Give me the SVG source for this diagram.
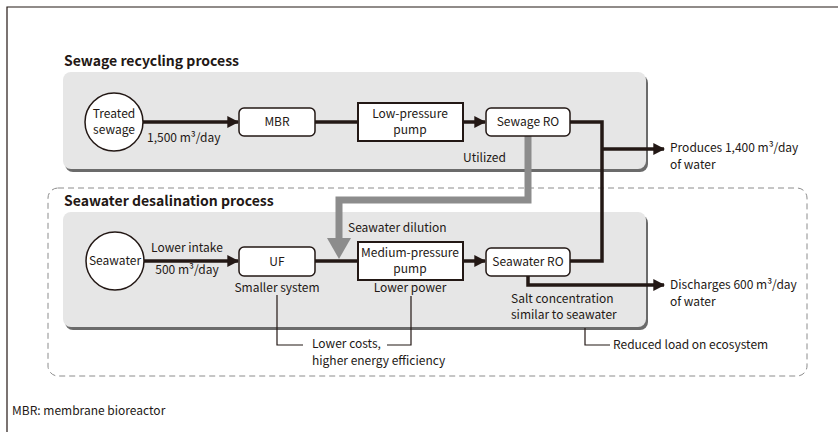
<svg xmlns="http://www.w3.org/2000/svg" width="838" height="432" viewBox="0 0 838 432">
<defs>
<style>
text{font-family:"Noto Sans CJK JP","Noto Sans",sans-serif;font-size:12px;fill:#231815}
.title{font-size:14px;font-weight:bold}
.mid{text-anchor:middle}
.panel{fill:#e6e6e6}
.shadow{fill:#6b6b6b}
.box{fill:#fff;stroke:#231815;stroke-width:1.5}
.pump{fill:#fff;stroke:#231815;stroke-width:2}
.flow{fill:none;stroke:#231815;stroke-width:3.5}
.thin{fill:none;stroke:#231815;stroke-width:1.2}
.gray{fill:none;stroke:#8c8c8c;stroke-width:7}
</style>
<marker id="ah" viewBox="0 0 10 10" refX="9" refY="5" markerWidth="3.4" markerHeight="3.4" orient="auto" markerUnits="strokeWidth">
<path d="M0,0 L10,5 L0,10 Z" fill="#231815"/>
</marker>
</defs>
<rect width="838" height="432" fill="#fff"/>
<path d="M7,432 V7 H838" fill="none" stroke="#231815" stroke-width="1.2"/>

<g id="seawater-frame">
<rect x="48" y="188" width="759" height="188" rx="10" fill="none" stroke="#8c8c8c" stroke-width="1" stroke-dasharray="6,4"/>
</g>

<g id="sewage-panel">
<rect class="shadow" x="65" y="75" width="583" height="97" rx="8"/>
<rect class="panel" x="63" y="72" width="583" height="97" rx="8"/>
<text class="title" x="64" y="66">Sewage recycling process</text>
</g>
<g id="seawater-panel">
<rect class="shadow" x="65" y="215" width="583" height="115" rx="8"/>
<rect class="panel" x="63" y="212" width="583" height="115" rx="8"/>
<text class="title" x="64" y="206">Seawater desalination process</text>
</g>

<g id="connectors">
<line class="flow" x1="143" y1="122" x2="238" y2="122" marker-end="url(#ah)"/>
<line class="flow" x1="315" y1="122" x2="358" y2="122"/>
<line class="flow" x1="463" y1="122" x2="485" y2="122" marker-end="url(#ah)"/>
<path class="flow" d="M570,122 H602 V261 H570"/>
<line class="flow" x1="602" y1="149" x2="664" y2="149" marker-end="url(#ah)"/>
<line class="flow" x1="144" y1="261" x2="238" y2="261" marker-end="url(#ah)"/>
<line class="flow" x1="315" y1="261" x2="358" y2="261"/>
<line class="flow" x1="463" y1="261" x2="485" y2="261" marker-end="url(#ah)"/>
<path class="flow" d="M528,276 V285 H664" marker-end="url(#ah)"/>
<path class="gray" d="M528,136 V200 H339 V238"/>
<polygon points="327,238 351,238 339,259" fill="#8c8c8c"/>
<path class="thin" d="M277,295 V345 H303"/>
<path class="thin" d="M387,345 H411 V296"/>
<path class="thin" d="M585,328 V345 H610"/>
</g>

<g id="treated-sewage">
<circle cx="114" cy="122" r="29" fill="#fff" stroke="#231815" stroke-width="1.5"/>
<text class="mid" x="114" y="118">Treated</text>
<text class="mid" x="114" y="134">sewage</text>
</g>
<g id="mbr">
<rect class="box" x="239" y="108" width="76" height="28" rx="5"/>
<text class="mid" x="277" y="126">MBR</text>
</g>
<g id="low-pressure-pump">
<rect class="pump" x="358" y="103" width="105" height="38"/>
<text class="mid" x="410" y="118">Low-pressure</text>
<text class="mid" x="410" y="134">pump</text>
</g>
<g id="sewage-ro">
<rect class="box" x="486" y="108" width="84" height="28" rx="5"/>
<text class="mid" x="528" y="126">Sewage RO</text>
</g>
<g id="seawater">
<circle cx="115" cy="261" r="29" fill="#fff" stroke="#231815" stroke-width="1.5"/>
<text class="mid" x="115" y="265">Seawater</text>
</g>
<g id="uf">
<rect class="box" x="239" y="247" width="76" height="29" rx="5"/>
<text class="mid" x="277" y="266">UF</text>
</g>
<g id="medium-pressure-pump">
<rect class="pump" x="358" y="242" width="105" height="38"/>
<text class="mid" x="410" y="257">Medium-pressure</text>
<text class="mid" x="410" y="273">pump</text>
</g>
<g id="seawater-ro">
<rect class="box" x="486" y="248" width="84" height="28" rx="5"/>
<text class="mid" x="528" y="266">Seawater RO</text>
</g>

<g id="labels">
<text x="147" y="142">1,500 m³/day</text>
<text x="463" y="162">Utilized</text>
<text x="670" y="152">Produces 1,400 m³/day</text>
<text x="670" y="169">of water</text>
<text x="348" y="232">Seawater dilution</text>
<text class="mid" x="187" y="252">Lower intake</text>
<text class="mid" x="187" y="274">500 m³/day</text>
<text class="mid" x="277" y="292">Smaller system</text>
<text class="mid" x="410" y="292">Lower power</text>
<text x="670" y="289">Discharges 600 m³/day</text>
<text x="670" y="306">of water</text>
<text x="511" y="303">Salt concentration</text>
<text x="511" y="319">similar to seawater</text>
<text x="312" y="348">Lower costs,</text>
<text x="312" y="365">higher energy efficiency</text>
<text x="613" y="349">Reduced load on ecosystem</text>
<text x="12" y="415">MBR: membrane bioreactor</text>
</g>
</svg>
